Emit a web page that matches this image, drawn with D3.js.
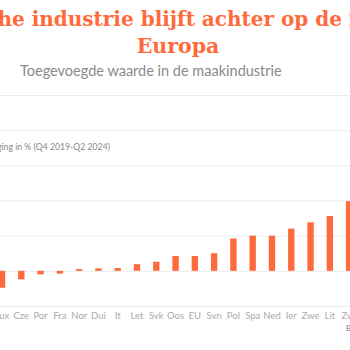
<!DOCTYPE html>
<html><head><meta charset="utf-8">
<script src="https://cdn.jsdelivr.net/npm/d3@7"></script>
<style>html,body{margin:0;padding:0;background:#fff;overflow:hidden}svg{display:block}</style>
</head><body>
<script>
const categories = ["Lux","Cze","Por","Fra","Nor","Dui","It","Let","Svk","Oos","EU","Svn","Pol","Spa","Ned","Ier","Zwe","Lit","Zwi"];
const values = [-2.4,-1.2,-0.5,-0.4,0.25,0.35,0.4,0.95,1.3,2.1,2.1,2.5,4.6,5.0,5.0,6.0,6.9,7.8,9.9];
const yTicks = [-5,0,5,10,15,20,25];
const titleLine1 = "Belgische industrie blijft achter op de rest van";
const titleLine2 = "Europa";
const subtitle = "Toegevoegde waarde in de maakindustrie";
const axisTitle = "Wijziging in % (Q4 2019-Q2 2024)";
const sourceText = "Bron: Eurostat";

const W = 350, H = 350;
const svg = d3.select("body").append("svg").attr("width", W).attr("height", H);

const x = d3.scaleBand().domain(categories).range([-7.64, 358.76]).paddingInner(0.67).paddingOuter(0.335);
const y = d3.scaleLinear().domain([-5, 25]).range([306, 95]);

// gridlines (y tick labels lie outside the visible crop)
const yAxis = d3.axisLeft(y).tickValues(yTicks).tickSize(-500).tickFormat("");
const gy = svg.append("g").attr("transform", "translate(-30,0)").call(yAxis);
gy.select(".domain").remove();
gy.selectAll(".tick line").attr("stroke", "#ebebeb").attr("stroke-width", 1);

// bars
svg.append("g").selectAll("rect").data(values).join("rect")
  .attr("x", (d, i) => x(categories[i]))
  .attr("width", x.bandwidth())
  .attr("y", d => y(Math.max(0, d)))
  .attr("height", d => Math.abs(y(d) - y(0)))
  .attr("fill", "#ff6a3a");

// x axis labels
const xAxis = d3.axisBottom(x).tickSize(0).tickPadding(0);
const gx = svg.append("g").attr("transform", "translate(0,312)").call(xAxis);
gx.select(".domain").remove();
gx.selectAll(".tick text").attr("fill", "#aaa").style("font-family", "Lato").style("font-size", "9.5px");

// titles
svg.append("text").attr("x", 177).attr("y", 26).attr("text-anchor", "middle")
  .attr("fill", "#ff6a3a").style("font-family", "DejaVu Serif").style("font-weight", "bold").style("font-size", "20px")
  .text(titleLine1);
svg.append("text").attr("x", 178).attr("y", 53).attr("text-anchor", "middle")
  .attr("fill", "#ff6a3a").style("font-family", "DejaVu Serif").style("font-weight", "bold").style("font-size", "20.5px")
  .text(titleLine2);
svg.append("text").attr("x", 20).attr("y", 76)
  .attr("fill", "#8a8a8a").style("font-family", "Lato").style("font-size", "14.5px")
  .text(subtitle);
svg.append("text").attr("x", 110).attr("y", 150).attr("text-anchor", "end")
  .attr("fill", "#888").style("font-family", "Lato").style("font-size", "8.7px")
  .text(axisTitle);
svg.append("text").attr("x", 346).attr("y", 331)
  .attr("fill", "#777").style("font-family", "Lato").style("font-size", "8px")
  .text(sourceText);
</script>
</body></html>
